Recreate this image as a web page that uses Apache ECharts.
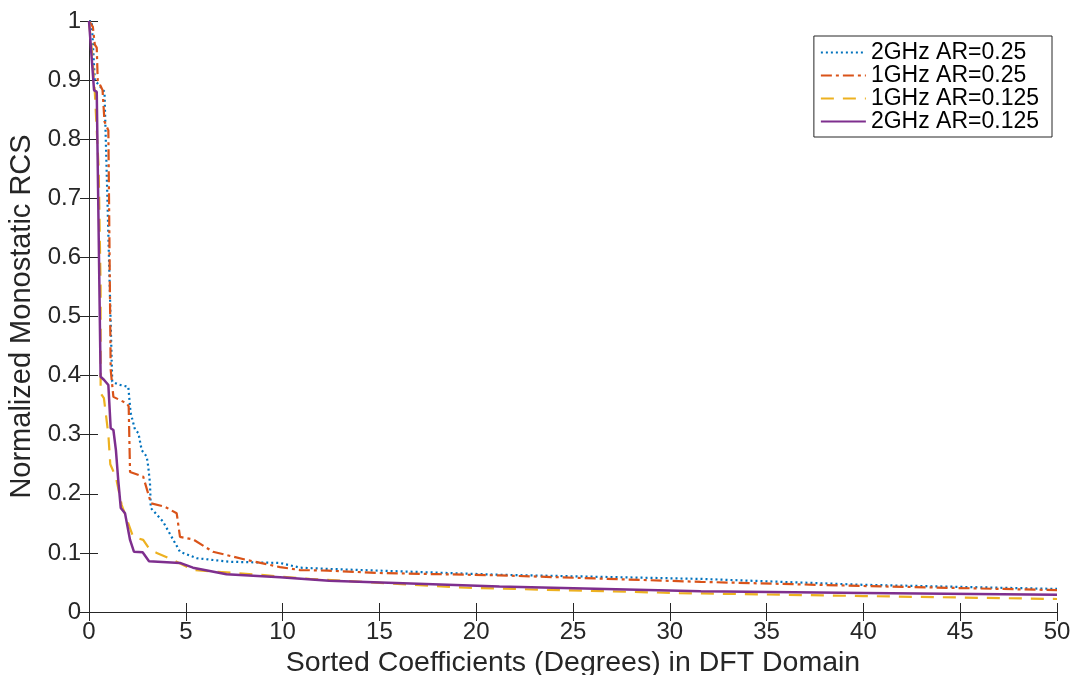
<!DOCTYPE html>
<html>
<head>
<meta charset="utf-8">
<script src="https://cdn.jsdelivr.net/npm/echarts@6/dist/echarts.min.js"></script>
<style>html,body{margin:0;padding:0;background:#fff}#c{width:1075px;height:675px}</style>
</head>
<body>
<div id="c"></div>
<script>
const seriesNames = ['2GHz AR=0.25', '1GHz AR=0.25', '1GHz AR=0.125', '2GHz AR=0.125'];
const xTicks = [0, 5, 10, 15, 20, 25, 30, 35, 40, 45, 50];
const yTicks = [0, 0.1, 0.2, 0.3, 0.4, 0.5, 0.6, 0.7, 0.8, 0.9, 1];

const blue2GHz025 = [[0,1],[0.14,1],[0.3,0.9],[0.55,0.89],[0.8,0.88],[0.85,0.82],[0.95,0.7],[1.2,0.39],[1.5,0.385],[2.03,0.381],[2.15,0.337],[2.38,0.308],[2.55,0.303],[2.72,0.274],[2.98,0.263],[3.06,0.246],[3.15,0.218],[3.19,0.176],[3.82,0.153],[4.7,0.102],[5.56,0.091],[7.28,0.085],[9.87,0.083],[10.9,0.075],[12.3,0.073],[21.2,0.063],[31.6,0.056],[40,0.046],[50,0.039]];
const orange1GHz025 = [[0,1],[0.2,0.99],[0.3,0.96],[0.4,0.955],[0.45,0.9],[0.6,0.89],[0.7,0.883],[0.8,0.83],[1.0,0.815],[1.12,0.41],[1.26,0.364],[1.95,0.353],[2.05,0.348],[2.12,0.237],[2.8,0.229],[3.15,0.19],[3.19,0.184],[3.93,0.178],[4.53,0.167],[4.7,0.127],[5.37,0.123],[6.4,0.102],[8.15,0.088],[9.87,0.076],[10.9,0.071],[12.35,0.07],[15,0.066],[18,0.064],[21.2,0.062],[31.6,0.051],[40,0.044],[50,0.037]];
const yellow1GHz0125 = [[0,1],[0.15,0.95],[0.3,0.88],[0.5,0.75],[0.6,0.55],[0.6,0.37],[0.77,0.362],[1.0,0.30],[1.1,0.25],[1.39,0.228],[1.69,0.181],[2.28,0.127],[2.8,0.122],[3.15,0.105],[3.5,0.1],[4.2,0.09],[5.4,0.071],[8.8,0.063],[11.4,0.056],[19.5,0.041],[30.5,0.032],[40,0.027],[50,0.022]];
const purple2GHz0125 = [[0,1],[0.26,0.883],[0.4,0.88],[0.6,0.398],[0.77,0.393],[1.0,0.384],[1.12,0.311],[1.26,0.308],[1.39,0.274],[1.51,0.223],[1.64,0.176],[1.86,0.167],[2.12,0.122],[2.32,0.102],[2.77,0.101],[3.1,0.086],[4.7,0.083],[5.37,0.075],[7.1,0.064],[9.87,0.059],[12.4,0.053],[21.2,0.043],[31.6,0.035],[40,0.032],[50,0.029]];

const FONT = 'Liberation Sans';
const axisLine = {show: true, lineStyle: {color: '#262626', width: 1}};
const tick = {show: true, inside: true, length: 9, lineStyle: {color: '#262626'}};
const labelStyle = {color: '#262626', fontFamily: FONT, fontSize: 24};

function mkSeries(name, data, color, type, width) {
  return {name, type: 'line', data, showSymbol: false, symbol: 'none', animation: false,
    lineStyle: {color, type, width}, itemStyle: {color}, z: 3};
}

const chart = echarts.init(document.getElementById('c'));
chart.setOption({
  backgroundColor: '#fff',
  animation: false,
  grid: {left: 89, right: 18, top: 21, bottom: 63, containLabel: false, outerBoundsMode: 'none'},
  legend: {
    orient: 'vertical', right: 23, top: 36, itemWidth: 45, itemHeight: 10, itemGap: 0,
    backgroundColor: '#fff', borderColor: '#262626', borderWidth: 1, padding: [5, 13, 4, 6],
    itemStyle: {opacity: 0},
    textStyle: {fontFamily: FONT, fontSize: 23, color: '#000', lineHeight: 22},
    data: seriesNames
  },
  xAxis: [{
    type: 'value', min: 0, max: 50, interval: 5, position: 'bottom',
    name: 'Sorted Coefficients (Degrees) in DFT Domain', nameLocation: 'middle', nameGap: 34,
    nameTextStyle: {fontFamily: FONT, fontSize: 28.5, color: '#262626'},
    axisLine, axisTick: tick, splitLine: {show: false},
    axisLabel: Object.assign({margin: 8, formatter: v => xTicks.includes(v) ? String(v) : ''}, labelStyle)
  }, {
    type: 'value', min: 0, max: 50, interval: 5, position: 'top',
    axisLine, axisTick: tick, splitLine: {show: false}, axisLabel: {show: false}
  }],
  yAxis: [{
    type: 'value', min: 0, max: 1, interval: 0.1, position: 'left',
    name: 'Normalized Monostatic RCS', nameLocation: 'middle', nameGap: 48,
    nameTextStyle: {fontFamily: FONT, fontSize: 29, color: '#262626'},
    axisLine, axisTick: tick, splitLine: {show: false},
    axisLabel: Object.assign({margin: 8, formatter: v => {
      const t = yTicks.find(k => Math.abs(k - v) < 1e-9);
      return t === undefined ? '' : String(t);
    }}, labelStyle)
  }, {
    type: 'value', min: 0, max: 1, interval: 0.1, position: 'right',
    axisLine, axisTick: tick, splitLine: {show: false}, axisLabel: {show: false}
  }],
  series: [
    mkSeries(seriesNames[0], blue2GHz025, '#0072BD', [2, 3], 2.2),
    mkSeries(seriesNames[1], orange1GHz025, '#D95319', [11, 4, 3, 4], 2.2),
    mkSeries(seriesNames[2], yellow1GHz0125, '#EDB120', [13, 9], 2.2),
    mkSeries(seriesNames[3], purple2GHz0125, '#7E2F8E', 'solid', 2.5)
  ]
});
</script>
</body>
</html>
